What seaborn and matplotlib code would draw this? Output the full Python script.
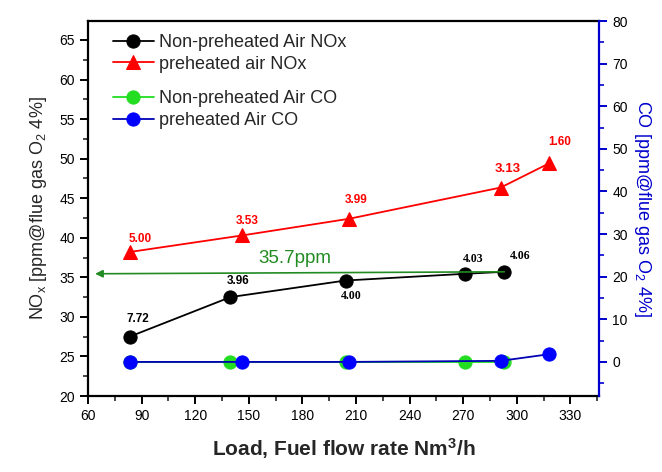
import matplotlib
matplotlib.use("Agg")
import matplotlib.pyplot as plt
import pandas as pd
import seaborn as sns
from matplotlib.ticker import MultipleLocator

# Data
load_non = [83.3, 139.7, 204.2, 271.2, 293.0]
nox_non = [27.5, 32.5, 34.6, 35.45, 35.7]
co_non = [0.0, 0.0, 0.0, 0.0, 0.0]
o2_non = ["7.72", "3.96", "4.00", "4.03", "4.06"]

load_pre = [83.3, 146.4, 206.1, 291.0, 318.0]
nox_pre = [38.2, 40.3, 42.4, 46.35, 49.4]
co_pre = [0.0, 0.0, 0.0, 0.25, 1.8]
o2_pre = ["5.00", "3.53", "3.99", "3.13", "1.60"]

ref_value = 35.7
ref_load = [293.0, 64.0]
ref_level = [35.7, 35.45]

df_non = pd.DataFrame({"load": load_non, "nox": nox_non, "co": co_non})
df_pre = pd.DataFrame({"load": load_pre, "nox": nox_pre, "co": co_pre})

sns.set_style("ticks")
plt.rcParams["font.family"] = ["Liberation Sans", "DejaVu Sans"]
plt.rcParams["mathtext.fontset"] = "custom"
plt.rcParams["mathtext.rm"] = "Liberation Sans"
plt.rcParams["mathtext.bf"] = "Liberation Sans:bold"
plt.rcParams["mathtext.it"] = "Liberation Sans:italic"

fig = plt.figure(figsize=(6.62, 4.72), dpi=100)
ax = fig.add_axes([0.1329, 0.161, 0.7719, 0.7945])
ax2 = ax.twinx()

ms = 9.5
lw = 1.3
sns.lineplot(data=df_non, x="load", y="nox", ax=ax, color="black", marker="o",
             markersize=ms, markeredgecolor="black", linewidth=lw,
             label="Non-preheated Air NOx", legend=False, zorder=3)
sns.lineplot(data=df_pre, x="load", y="nox", ax=ax, color="#ff0000", marker="^",
             markersize=ms + 1, markeredgecolor="#ff0000", linewidth=lw,
             label="preheated air NOx", legend=False, zorder=3)
sns.lineplot(data=df_non, x="load", y="co", ax=ax2, color="#22dd22", marker="o",
             markersize=ms, markeredgecolor="#22dd22", linewidth=lw,
             label="Non-preheated Air CO", legend=False, zorder=2)
sns.lineplot(data=df_pre, x="load", y="co", ax=ax2, color="#0000b4", marker="o",
             markersize=ms, markerfacecolor="#0000ff", markeredgecolor="#0000ff",
             linewidth=lw, label="preheated Air CO", legend=False, zorder=3)

# O2 labels
off_non = [(5.8, 12.7), (5.3, 11.5), (4.3, -10.8), (6, 10.6), (11.3, 11.3)]
for i, (x, y, t) in enumerate(zip(load_non, nox_non, o2_non)):
    fam = "Liberation Sans" if i < 2 else "Liberation Serif"
    ax.annotate(t, xy=(x, y), xytext=off_non[i], textcoords="offset points",
                ha="center", va="center", fontsize=8.5, fontweight="bold",
                family=fam, color="black")
off_pre = [(7.9, 9.1), (3.2, 10.3), (5, 13.2), (5, 13), (7.7, 15.6)]
size_pre = [8.5, 8.5, 8.5, 9.5, 8.5]
for i, (x, y, t) in enumerate(zip(load_pre, nox_pre, o2_pre)):
    ax.annotate(t, xy=(x, y), xytext=off_pre[i], textcoords="offset points",
                ha="center", va="center", fontsize=size_pre[i],
                fontweight="bold", color="#ff0000")

# reference arrow
ax.annotate("", xy=(ref_load[1], ref_level[1]), xytext=(ref_load[0], ref_level[0]),
            arrowprops=dict(arrowstyle="-|>", color="#228b22", lw=1.2,
                            mutation_scale=11, shrinkA=0, shrinkB=0), zorder=5)
ax.text(176, 37.4, f"{ref_value}ppm", color="#228b22", fontsize=13.5,
        ha="center", va="center")

# axes
ax.set_xlim(60, 346)
ax.set_ylim(20, 67.4)
ax2.set_ylim(-8, 80)
ax.xaxis.set_major_locator(MultipleLocator(30))
ax.xaxis.set_minor_locator(MultipleLocator(15))
ax.yaxis.set_major_locator(MultipleLocator(5))
ax.yaxis.set_minor_locator(MultipleLocator(2.5))
ax2.yaxis.set_major_locator(MultipleLocator(10))
ax2.yaxis.set_minor_locator(MultipleLocator(5))

for s in ["left", "bottom", "top"]:
    ax.spines[s].set_linewidth(1.6)
    ax.spines[s].set_color("black")
ax.spines["right"].set_visible(False)
for s in ["left", "bottom", "top"]:
    ax2.spines[s].set_visible(False)
ax2.spines["right"].set_linewidth(1.6)
ax2.spines["right"].set_color("#0000cc")

ax.tick_params(axis="both", which="major", direction="out", length=6, width=1.4,
               labelsize=10, colors="black")
ax.tick_params(axis="both", which="minor", direction="out", length=3.5, width=1.2)
ax.tick_params(axis="x", which="both", top=False)
ax2.tick_params(axis="y", which="major", direction="out", length=6, width=1.4,
                labelsize=10, color="#0000cc", labelcolor="black")
ax2.tick_params(axis="y", which="minor", direction="out", length=3.5, width=1.2,
                color="#0000cc")

ax.set_xlabel(r"Load, Fuel flow rate Nm$^\mathbf{3}$/h", fontsize=15,
              fontweight="bold", labelpad=9)
ax.set_ylabel(r"NO$_\mathrm{x}$ [ppm@flue gas O$_\mathrm{2}$ 4%]", fontsize=13,
              labelpad=7)
ax2.set_ylabel(r"CO [ppm@flue gas O$_\mathrm{2}$ 4%]", fontsize=13,
               color="#0000cc", rotation=-90, labelpad=18)

# legends
h1 = ax.get_lines()[:2]
h2 = ax2.get_lines()[:2]
leg1 = ax2.legend(handles=h1, loc="upper left", bbox_to_anchor=(0.048, 0.965),
                  frameon=False, fontsize=13, borderpad=0, borderaxespad=0,
                  handlelength=2.3, handletextpad=0.3, labelspacing=0.25)
ax2.add_artist(leg1)
ax2.legend(handles=h2, loc="upper left", bbox_to_anchor=(0.048, 0.815),
           frameon=False, fontsize=13, borderpad=0, borderaxespad=0,
           handlelength=2.3, handletextpad=0.3, labelspacing=0.25)

fig.savefig("out.png", dpi=100)
